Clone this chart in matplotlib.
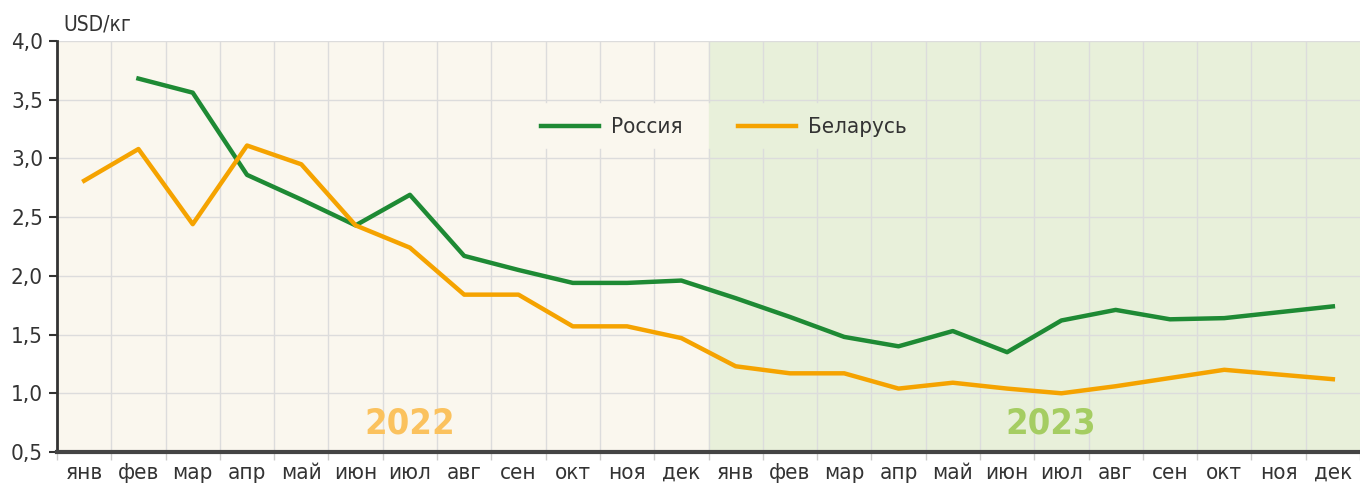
import matplotlib
matplotlib.use("Agg")
import matplotlib.pyplot as plt
import numpy as np
from matplotlib.ticker import FuncFormatter

plt.rcParams['font.family'] = ['DejaVu Sans']
plt.rcParams['font.stretch'] = 'condensed'

months = ["янв", "фев", "мар", "апр", "май", "июн", "июл", "авг", "сен", "окт", "ноя", "дек"]
labels = months + months

# Россия: январь 2022 нет данных
russia = [np.nan, 3.68, 3.56, 2.86, 2.65, 2.43, 2.69, 2.17, 2.05, 1.94, 1.94, 1.96,
          1.81, 1.65, 1.48, 1.40, 1.53, 1.35, 1.62, 1.71, 1.63, 1.64, 1.69, 1.74]
belarus = [2.81, 3.08, 2.44, 3.11, 2.95, 2.43, 2.24, 1.84, 1.84, 1.57, 1.57, 1.47,
           1.23, 1.17, 1.17, 1.04, 1.09, 1.04, 1.00, 1.06, 1.13, 1.20, 1.16, 1.12]

green = '#1e8a34'
orange = '#f5a300'
bg22 = '#faf7ee'
bg23 = '#e8f0da'
txt = '#333333'
grid = '#dcdcdc'

fig = plt.figure(figsize=(13.6, 4.91), dpi=100)
ax = fig.add_axes([57 / 1360, 1 - 452 / 491, 1 - 57 / 1360, (452 - 41) / 491])

x = np.arange(len(labels))
ax.set_xlim(-0.5, 23.35)
ax.set_ylim(0.5, 4.0)

ax.axvspan(-0.5, 11.5, color=bg22, zorder=0)
ax.axvspan(11.5, 24, color=bg23, zorder=0)

# сетка, с разрывом под легендой
gap_lo, gap_hi = (3.08 - 0.5) / 3.5, (3.48 - 0.5) / 3.5
for xv in np.arange(0.5, 23, 1):
    if 8 < xv < 14:
        ax.axvline(xv, ymax=gap_lo, color=grid, lw=1, zorder=1)
        ax.axvline(xv, ymin=gap_hi, color=grid, lw=1, zorder=1)
    else:
        ax.axvline(xv, color=grid, lw=1, zorder=1)
for yv in np.arange(1.0, 4.01, 0.5):
    ax.axhline(yv, color=grid, lw=1, zorder=1)

ax.plot(x, russia, color=green, lw=3.2, label='Россия', zorder=3)
ax.plot(x, belarus, color=orange, lw=3.2, label='Беларусь', zorder=3)

ax.text(6.0, 0.74, '2022', color='#fbc25e', fontsize=26, fontweight='bold',
        ha='center', va='center', zorder=2)
ax.text(17.8, 0.74, '2023', color='#a5cd62', fontsize=26, fontweight='bold',
        ha='center', va='center', zorder=2)

leg = ax.legend(ncol=2, loc='center', bbox_to_anchor=(0.512, 0.79), frameon=False,
                fontsize=16, handlelength=2.6, columnspacing=2.5, handletextpad=0.55)
for t in leg.get_texts():
    t.set_color(txt)

ax.set_yticks(np.arange(0.5, 4.01, 0.5))
ax.yaxis.set_major_formatter(FuncFormatter(lambda v, p: f"{v:.1f}".replace('.', ',')))
ax.set_xticks(x)
ax.set_xticklabels(labels)
ax.set_xticks(np.arange(-0.5, 24, 1), minor=True)
ax.tick_params(axis='x', which='major', length=0, pad=8, labelsize=16, labelcolor=txt)
ax.tick_params(axis='x', which='minor', length=6, color='#cccccc', width=1)
ax.tick_params(axis='y', length=6, width=1.5, color=txt, pad=4, labelsize=16, labelcolor=txt)

for s in ['top', 'right']:
    ax.spines[s].set_visible(False)
ax.spines['left'].set_color(txt)
ax.spines['left'].set_linewidth(2)
ax.spines['bottom'].set_color('#444444')
ax.spines['bottom'].set_linewidth(3)
ax.spines['left'].set_zorder(4)
ax.spines['bottom'].set_zorder(4)

fig.text(63 / 1360, 1 - 25 / 491, 'USD/кг', fontsize=15, color=txt, ha='left', va='center')

fig.savefig('out.png', dpi=100)
